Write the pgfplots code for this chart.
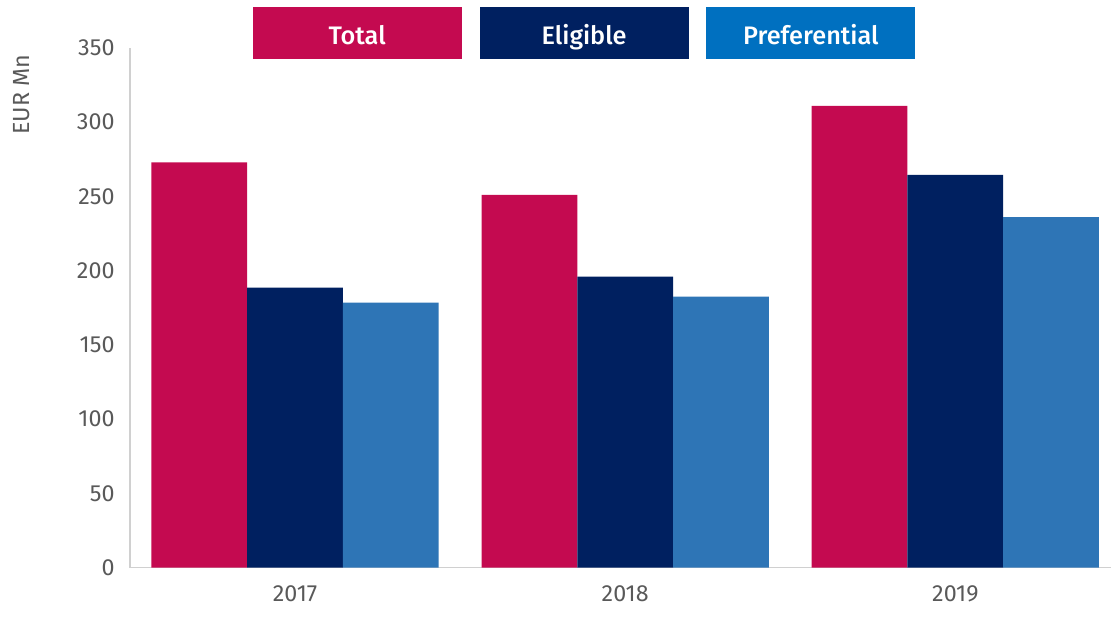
\documentclass[border=0pt]{standalone}
\usepackage{pgfplots}
\pgfplotsset{compat=1.18}
\usepackage{fontspec}
\setmainfont{Fira Sans}[BoldFont={Fira Sans Medium}]
\definecolor{ctotal}{HTML}{C40A50}
\definecolor{celig}{HTML}{002060}
\definecolor{cpref}{HTML}{2E75B6}
\definecolor{cprefleg}{HTML}{0070C0}
\definecolor{caxis}{HTML}{D0D0D0}
\definecolor{ctext}{HTML}{595959}
\begin{document}
\begin{tikzpicture}
\begin{axis}[
  scale only axis,
  width=736.5pt, height=390pt,
  xmin=-0.5, xmax=2.472,
  ymin=0, ymax=350,
  ytick={0,50,...,350},
  xtick={0,1,2},
  xticklabels={2017,2018,2019},
  axis x line*=bottom, axis y line*=left,
  axis line style={caxis, line width=1.2pt},
  major tick length=0pt,
  tick style={draw=none},
  /pgf/number format/assume math mode=true,
  ticklabel style={font=\fontsize{17.5}{20}\selectfont, text=ctext},
  yticklabel style={xshift=-8pt},
  xticklabel style={yshift=-10pt},
  ylabel={EUR Mn},
  every axis y label/.style={at={(rel axis cs:0,0.91)}, xshift=-81pt, rotate=90, anchor=center, font=\fontsize{17.5}{20}\selectfont, text=ctext},
  ybar, bar width=0.29,
  clip=false,
]
\addplot[fill=ctotal, draw=none, bar shift=-0.29] coordinates {(0,273) (1,251) (2,311)};
\addplot[fill=celig, draw=none, bar shift=0] coordinates {(0,188.5) (1,196) (2,264.5)};
\addplot[fill=cpref, draw=none, bar shift=0.29] coordinates {(0,178.5) (1,182.5) (2,236)};
\end{axis}
\begin{scope}[every node/.style={minimum width=156.75pt, minimum height=39pt, inner sep=0pt, text=white, text height=18pt, text depth=0pt, font=\bfseries\fontsize{19}{22}\selectfont}]
\node[fill=ctotal] at (170.6pt,401.25pt) {Total};
\node[fill=celig] at (340.9pt,401.25pt) {Eligible};
\node[fill=cprefleg] at (511.1pt,401.25pt) {Preferential};
\end{scope}
\path[use as bounding box] (-97.5pt,-42.75pt) rectangle (736.5pt,426pt);
\end{tikzpicture}
\end{document}
